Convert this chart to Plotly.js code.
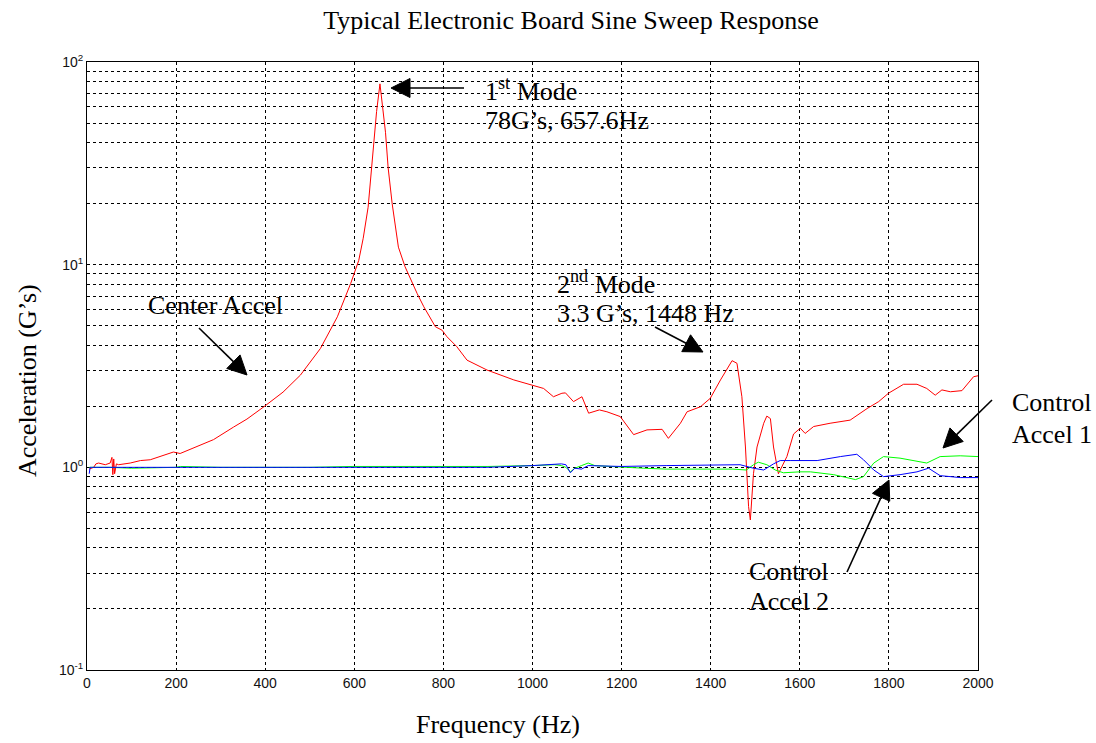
<!DOCTYPE html>
<html>
<head>
<meta charset="utf-8">
<script src="https://cdn.plot.ly/plotly-3.0.1.min.js"></script>
<style>html,body{margin:0;padding:0;background:#fff;}#chart{width:1096px;height:743px;}</style>
</head>
<body>
<div id="chart"></div>
<script>
// ---- Data ----
const centerFreq = [5, 15, 20, 26, 41, 52, 56, 58, 60, 62, 66, 71, 97, 120, 142, 165, 194, 209, 239, 284, 329, 359, 397, 440, 479, 524, 562, 592, 610, 620, 631, 640, 645, 650, 657.6, 665, 670, 676, 685, 699, 714, 741, 756, 782, 797, 808, 830, 853, 898, 958, 995, 1025, 1047, 1066, 1074, 1092, 1111, 1126, 1150, 1167, 1197, 1208, 1227, 1257, 1291, 1305, 1332, 1347, 1377, 1399, 1422, 1448, 1459, 1470, 1478, 1485, 1489, 1496, 1504, 1519, 1526, 1534, 1541, 1552, 1571, 1586, 1601, 1612, 1631, 1668, 1713, 1751, 1777, 1799, 1833, 1863, 1885, 1904, 1919, 1938, 1964, 1990, 2000];
const centerAccel = [0.98, 1.0, 1.04, 1.05, 1.03, 1.05, 1.12, 0.92, 1.1, 0.93, 1.04, 1.03, 1.05, 1.08, 1.09, 1.13, 1.19, 1.17, 1.25, 1.37, 1.58, 1.73, 1.99, 2.35, 2.85, 3.86, 5.53, 8.09, 10.5, 13.5, 19.2, 31.6, 42, 57, 78, 55, 45, 30, 20, 12.2, 9.76, 7.21, 6.2, 4.94, 4.75, 4.41, 3.94, 3.38, 3.02, 2.70, 2.55, 2.45, 2.23, 2.32, 2.33, 2.11, 2.23, 1.85, 1.92, 1.88, 1.78, 1.65, 1.45, 1.53, 1.54, 1.39, 1.65, 1.88, 1.99, 2.19, 2.70, 3.36, 3.26, 2.23, 1.26, 0.64, 0.55, 0.93, 1.26, 1.65, 1.79, 1.74, 1.26, 0.93, 1.13, 1.46, 1.56, 1.47, 1.59, 1.65, 1.71, 1.95, 2.11, 2.32, 2.57, 2.57, 2.45, 2.27, 2.41, 2.36, 2.39, 2.80, 2.83];

const control1Freq = [5, 50, 100, 200, 210, 300, 400, 500, 595, 700, 800, 900, 1000, 1050, 1065, 1075, 1085, 1095, 1110, 1125, 1140, 1200, 1250, 1300, 1400, 1450, 1480, 1496, 1507, 1526, 1545, 1563, 1600, 1624, 1676, 1725, 1743, 1766, 1788, 1825, 1885, 1915, 1960, 2000];
const control1Accel = [1.0, 1.0, 0.99, 1.0, 1.01, 1.0, 1.0, 1.0, 1.01, 1.01, 1.01, 1.01, 1.02, 1.03, 1.02, 1.0, 0.95, 0.99, 1.02, 1.05, 1.02, 1.0, 0.99, 0.98, 0.98, 0.98, 0.97, 1.03, 1.06, 1.03, 0.97, 0.94, 0.95, 0.95, 0.92, 0.87, 0.90, 1.05, 1.13, 1.11, 1.05, 1.13, 1.14, 1.13];

const control2Freq = [5, 7, 10, 100, 200, 300, 400, 500, 600, 700, 800, 900, 1000, 1050, 1065, 1075, 1085, 1095, 1110, 1125, 1200, 1300, 1400, 1466, 1496, 1519, 1541, 1556, 1580, 1639, 1691, 1728, 1743, 1766, 1788, 1825, 1863, 1889, 1915, 1960, 2000];
const control2Accel = [0.93, 1.0, 1.0, 1.0, 1.0, 1.0, 1.0, 1.0, 1.0, 1.0, 1.0, 1.0, 1.02, 1.03, 1.04, 1.03, 0.94, 0.99, 0.98, 1.02, 1.01, 1.02, 1.03, 1.03, 0.99, 0.97, 1.04, 1.08, 1.08, 1.08, 1.13, 1.16, 1.09, 0.97, 0.90, 0.92, 0.95, 0.99, 0.91, 0.89, 0.89];

const xTicks = [0, 200, 400, 600, 800, 1000, 1200, 1400, 1600, 1800, 2000];
const yMajorVals = [0.1, 1, 10, 100];
const yMajorText = ['10<sup>-1</sup>', '10<sup>0</sup>', '10<sup>1</sup>', '10<sup>2</sup>'];
const yMinorVals = [0.2,0.3,0.4,0.5,0.6,0.7,0.8,0.9,2,3,4,5,6,7,8,9,20,30,40,50,60,70,80,90];

// ---- Layout helpers (pixel -> paper) ----
const L = 87, R = 978, T = 62, B = 670;
const px = x => (x - L) / (R - L);
const py = y => (B - y) / (B - T);

const serif = 'Liberation Serif, Times New Roman, serif';
const sans = 'Liberation Sans, Arial, sans-serif';
const annFont = {family: serif, size: 26, color: '#000'};

function label(text, x, y) {
  return {text: text, xref: 'paper', yref: 'paper', x: px(x), y: py(y), xanchor: 'left', yanchor: 'middle',
          showarrow: false, font: annFont, align: 'left'};
}
// arrow drawn as a line plus a filled triangular head (pixel geometry -> paper coords)
function arrowShapes(tx, ty, sx, sy) {
  const dx = tx - sx, dy = ty - sy, len = Math.hypot(dx, dy);
  const ux = dx / len, uy = dy / len, nx = -uy, ny = ux;
  const headL = 19, headW = 9.5;
  const bx = tx - ux * headL, by = ty - uy * headL;
  const p = (x, y) => px(x) + ',' + py(y);
  return [
    {type: 'line', xref: 'paper', yref: 'paper', x0: px(sx), y0: py(sy), x1: px(bx + ux), y1: py(by + uy),
     line: {color: '#000', width: 1.6}},
    {type: 'path', xref: 'paper', yref: 'paper',
     path: 'M' + p(tx, ty) + 'L' + p(bx + nx * headW, by + ny * headW) + 'L' + p(bx - nx * headW, by - ny * headW) + 'Z',
     fillcolor: '#000', line: {color: '#000', width: 1}}
  ];
}

const traces = [
  {x: centerFreq, y: centerAccel, type: 'scatter', mode: 'lines', line: {color: '#ff0000', width: 1}, name: 'Center Accel'},
  {x: control1Freq, y: control1Accel, type: 'scatter', mode: 'lines', line: {color: '#00ff00', width: 1}, name: 'Control Accel 1'},
  {x: control2Freq, y: control2Accel, type: 'scatter', mode: 'lines', line: {color: '#0000ff', width: 1}, name: 'Control Accel 2'}
];

const gridStyle = {showgrid: true, gridcolor: '#000', griddash: '3px,3px', gridwidth: 1};

const layout = {
  width: 1096, height: 743,
  margin: {l: L, r: 1096 - R, t: T, b: 743 - B, pad: 0},
  paper_bgcolor: '#fff', plot_bgcolor: '#fff',
  showlegend: false,
  title: {text: 'Typical Electronic Board Sine Sweep Response', font: {family: serif, size: 26, color: '#000'},
          x: px(571), xref: 'paper', xanchor: 'center', y: 1 - 20/743, yref: 'container', yanchor: 'middle'},
  xaxis: Object.assign({
    range: [0, 2000], tickmode: 'array', tickvals: xTicks, ticktext: xTicks.map(String),
    showline: true, mirror: true, linecolor: '#000', linewidth: 1,
    ticks: '', zeroline: false,
    tickfont: {family: sans, size: 14, color: '#111'}
  }, gridStyle),
  yaxis: Object.assign({
    type: 'log', range: [-1, 2], tickmode: 'array', tickvals: yMajorVals, ticktext: yMajorText,
    minor: Object.assign({tickmode: 'array', tickvals: yMinorVals, ticks: ''}, gridStyle),
    showline: true, mirror: true, linecolor: '#000', linewidth: 1,
    ticks: '', zeroline: false,
    tickfont: {family: sans, size: 14, color: '#111'}
  }, gridStyle),
  shapes: [].concat(
    arrowShapes(391, 88, 464, 88),
    arrowShapes(247, 375, 199, 328),
    arrowShapes(703, 352, 655, 327),
    arrowShapes(943, 448, 992, 400),
    arrowShapes(889, 480, 847, 572)
  ),
  annotations: [
    {text: 'Frequency (Hz)', xref: 'paper', yref: 'paper', x: px(498), y: py(724), xanchor: 'center', yanchor: 'middle',
     showarrow: false, font: annFont},
    {text: 'Acceleration (G’s)', xref: 'paper', yref: 'paper', x: px(27), y: py(381), xanchor: 'center', yanchor: 'middle',
     textangle: -90, showarrow: false, font: annFont},
    label('1<sup>st</sup> Mode', 483, 90),
    label('78G’s, 657.6Hz', 483, 120),
    label('Center Accel', 146, 305),
    label('2<sup>nd</sup> Mode', 555, 282),
    label('3.3 G’s, 1448 Hz', 555, 313),
    label('Control', 1010, 402),
    label('Accel 1', 1010, 434),
    label('Control', 747, 571),
    label('Accel 2', 747, 601)
  ]
};

Plotly.newPlot('chart', traces, layout, {displayModeBar: false, staticPlot: true});
</script>
</body>
</html>
